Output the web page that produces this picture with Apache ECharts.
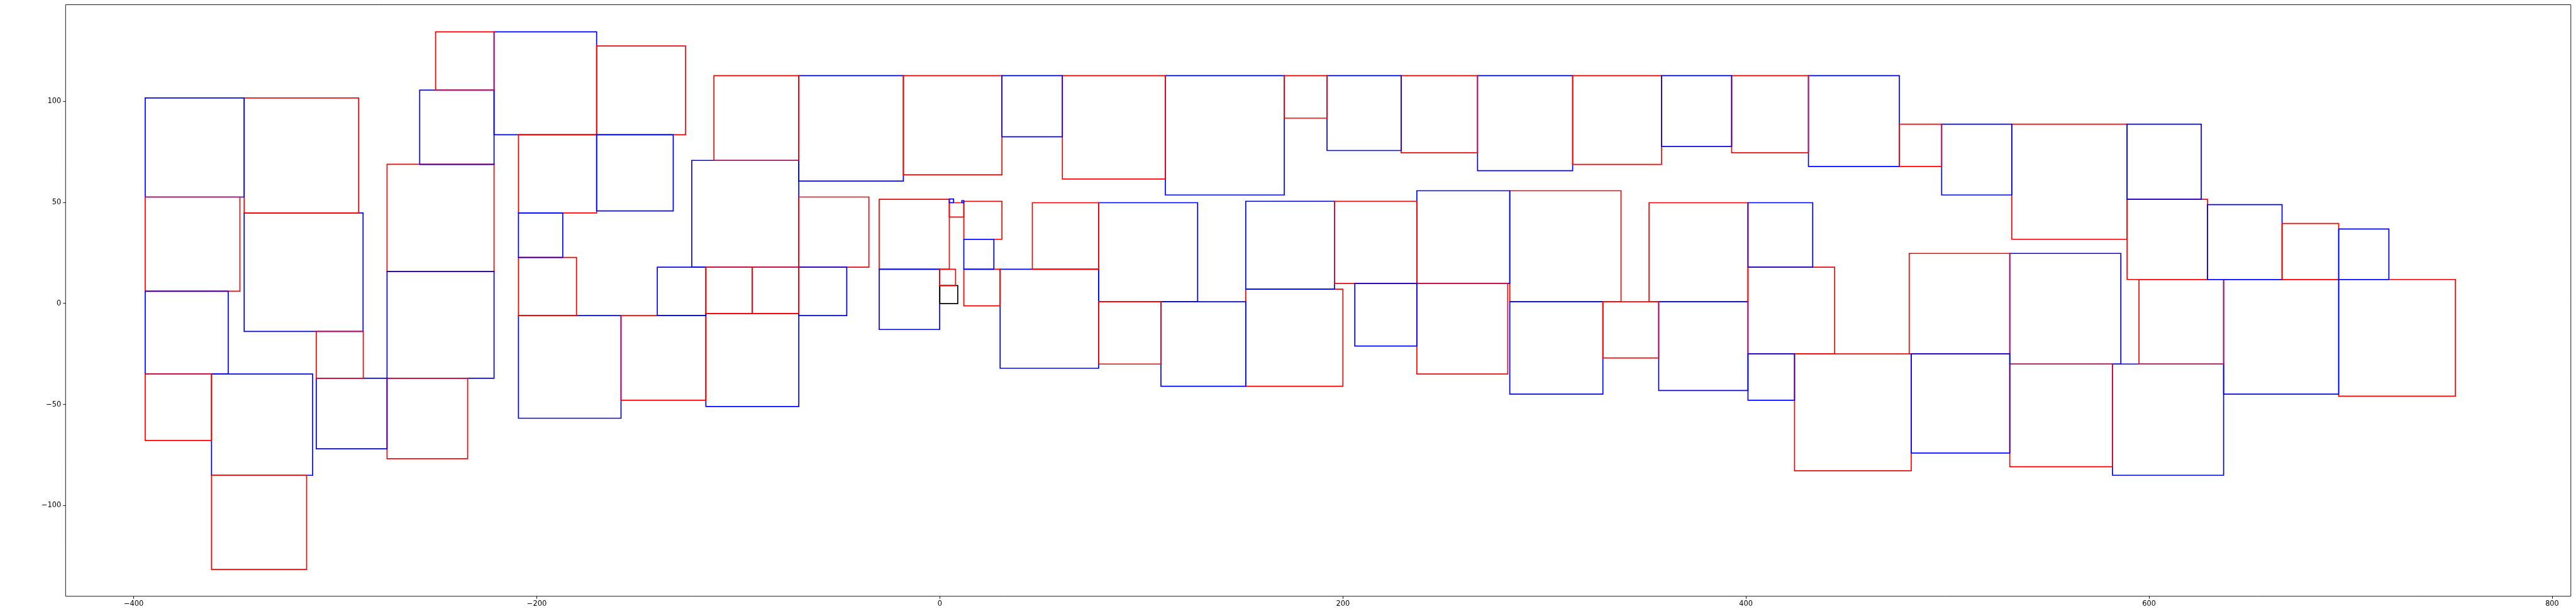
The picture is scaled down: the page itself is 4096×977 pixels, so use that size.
<!DOCTYPE html>
<html><head><meta charset="utf-8">
<script src="https://cdn.jsdelivr.net/npm/echarts@6/dist/echarts.min.js"></script>
<style>html,body{margin:0;padding:0;background:#fff}#c{width:4096px;height:977px}</style>
</head><body><div id="c"></div>
<script>
// axis ticks
var xTicks = [-400, -200, 0, 200, 400, 600, 800];
var yTicks = [-100, -50, 0, 50, 100];
var xRange = [-433.8, 809.3];
var yRange = [-144.85, 147.7];

// rectangles: [x0, y0, x1, y1] in data units
var redRects = [
  [-394.3, 6.0, -347.3, 52.6], [-394.3, -67.8, -361.4, -34.9], [-361.4, -131.6, -314.2, -85.0],
  [-345.2, 44.7, -288.4, 101.6], [-309.4, -37.0, -286.1, -13.9], [-274.3, 15.8, -221.2, 68.8],
  [-274.3, -76.8, -234.3, -37.0], [-250.2, 105.5, -221.2, 134.3], [-209.1, 44.7, -170.3, 83.4],
  [-209.1, -6.0, -180.3, 22.7], [-170.3, 83.4, -126.2, 127.3], [-158.2, -47.9, -116.1, -6.0],
  [-116.1, -5.0, -93.1, 17.9], [-93.1, -5.0, -70.0, 17.9], [-112.1, 70.7, -70.0, 112.6],
  [-70.0, 17.9, -35.2, 52.6], [-30.1, 16.9, 4.7, 51.5], [-18.1, 63.6, 30.8, 112.6],
  [4.7, 42.7, 11.9, 49.8], [11.9, 31.7, 30.8, 50.5], [-0.1, 8.8, 7.8, 16.9],
  [11.9, -1.2, 29.9, 16.9], [45.9, 16.9, 78.8, 49.8], [60.8, 61.5, 111.9, 112.6],
  [78.8, -30.0, 109.7, 0.8], [151.8, -41.0, 200.0, 7.0], [170.9, 91.6, 192.1, 112.6],
  [195.8, 9.8, 236.7, 50.5], [228.9, 74.5, 266.8, 112.6], [236.7, -34.9, 281.8, 9.8],
  [282.8, 0.8, 338.0, 55.7], [314.0, 68.7, 358.1, 112.6], [329.0, -27.0, 356.7, 0.8],
  [351.9, 0.8, 401.0, 49.8], [392.9, 74.5, 431.0, 112.6], [401.0, -25.0, 444.0, 17.9],
  [424.1, -82.8, 482.0, -25.0], [476.1, 67.7, 497.1, 88.6], [481.0, -25.0, 530.9, 24.7],
  [531.9, 31.7, 589.1, 88.6], [530.9, -80.8, 581.9, -30.0], [589.1, 11.8, 629.0, 51.5],
  [595.0, -30.0, 637.0, 11.8], [666.0, 11.8, 694.1, 39.5], [694.1, -45.9, 752.0, 11.8]
];
var blueRects = [
  [-394.3, 52.6, -345.2, 101.6], [-394.3, -34.9, -353.1, 6.0], [-361.4, -85.0, -311.2, -34.9],
  [-345.2, -13.9, -286.2, 44.7], [-309.4, -71.9, -274.3, -37.0], [-274.3, -37.0, -221.2, 15.8],
  [-258.1, 68.7, -221.2, 105.5], [-221.2, 83.4, -170.3, 134.3], [-209.1, 22.7, -187.1, 44.7],
  [-209.1, -56.8, -158.2, -6.0], [-170.3, 45.7, -132.3, 83.4], [-140.2, -6.0, -116.1, 17.9],
  [-123.1, 17.9, -70.0, 70.7], [-116.1, -51.0, -70.0, -5.0], [-70.0, 60.5, -18.1, 112.6],
  [-70.0, -6.0, -46.2, 17.9], [-30.1, -12.9, -0.1, 16.9], [4.7, 49.8, 6.8, 51.6],
  [10.9, 49.8, 11.9, 50.8], [11.9, 16.9, 26.8, 31.7], [29.9, -32.1, 78.8, 16.9],
  [30.8, 82.4, 60.8, 112.6], [78.8, 0.8, 127.9, 49.8], [109.7, -41.0, 151.8, 0.8],
  [111.9, 53.6, 170.9, 112.6], [151.8, 7.0, 195.8, 50.5], [192.1, 75.6, 228.9, 112.6],
  [205.9, -21.1, 236.7, 9.8], [236.7, 9.8, 282.8, 55.7], [266.8, 65.6, 314.0, 112.6],
  [282.8, -44.9, 329.0, 0.8], [356.7, -43.1, 401.0, 0.8], [358.1, 77.6, 392.9, 112.6],
  [401.0, 17.9, 433.1, 49.8], [401.0, -47.9, 424.1, -25.0], [431.0, 67.7, 476.1, 112.6],
  [482.0, -74.0, 530.9, -25.0], [497.1, 53.6, 531.9, 88.6], [530.9, -30.0, 586.0, 24.7],
  [589.1, 51.5, 625.9, 88.6], [581.9, -85.0, 637.0, -30.0], [629.0, 11.8, 666.0, 48.8],
  [637.0, -44.9, 694.1, 11.8], [694.1, 11.8, 719.0, 36.8]
];
var blackRects = [
  [0.0, -0.1, 8.9, 8.8]
];

var groupColors = ['#ff0000', '#0000ff', '#000000'];

var items = [];
redRects.forEach(function (r) { items.push(r.concat([0])); });
blueRects.forEach(function (r) { items.push(r.concat([1])); });
blackRects.forEach(function (r) { items.push(r.concat([2])); });
// larger squares drawn first, smaller ones on top
items.sort(function (a, b) {
  return (b[2] - b[0]) * (b[3] - b[1]) - (a[2] - a[0]) * (a[3] - a[1]);
});

function fmt(v) {
  return v < 0 ? '\u2212' + Math.abs(v) : String(v);
}

var chart = echarts.init(document.getElementById('c'), null, { renderer: 'canvas' });
var labelStyle = { color: '#000', fontFamily: 'DejaVu Sans', fontSize: 11.4 };
chart.setOption({
  animation: false,
  backgroundColor: '#ffffff',
  grid: {
    left: 104.3, right: 8.2, top: 7.5, bottom: 28.2,
    show: true, borderColor: '#000', borderWidth: 0.9, backgroundColor: 'transparent'
  },
  xAxis: {
    type: 'value', min: xRange[0], max: xRange[1], position: 'bottom',
    axisLine: { show: false, onZero: false },
    splitLine: { show: false },
    axisTick: { show: true, inside: false, length: 4, lineStyle: { color: '#000', width: 0.9 }, customValues: xTicks },
    axisLabel: Object.assign({ show: true, margin: 7, customValues: xTicks, formatter: fmt }, labelStyle)
  },
  yAxis: {
    type: 'value', min: yRange[0], max: yRange[1], position: 'left',
    axisLine: { show: false, onZero: false },
    splitLine: { show: false },
    axisTick: { show: true, inside: false, length: 4, lineStyle: { color: '#000', width: 0.9 }, customValues: yTicks },
    axisLabel: Object.assign({ show: true, margin: 7, customValues: yTicks, formatter: fmt }, labelStyle)
  },
  series: [{
    type: 'custom',
    coordinateSystem: 'cartesian2d',
    silent: true,
    clip: false,
    data: items,
    encode: { x: [0, 2], y: [1, 3] },
    renderItem: function (params, api) {
      var tl = api.coord([api.value(0), api.value(3)]);
      var br = api.coord([api.value(2), api.value(1)]);
      return {
        type: 'rect',
        shape: { x: tl[0], y: tl[1], width: br[0] - tl[0], height: br[1] - tl[1] },
        style: { fill: 'transparent', stroke: groupColors[api.value(4)], lineWidth: 1.7 }
      };
    }
  }]
});
</script>
</body></html>
